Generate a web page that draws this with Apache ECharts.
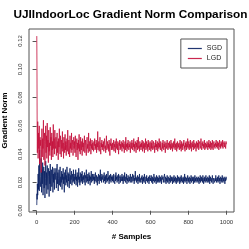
<!DOCTYPE html>
<html><head><meta charset="utf-8">
<script src="https://cdn.jsdelivr.net/npm/echarts@6/dist/echarts.min.js"></script>
<style>html,body{margin:0;padding:0;background:#fff}#c{width:249px;height:249px}</style>
</head><body><div id="c"></div>
<script>
const samples = [1,2,3,4,6,8,10,12,14,16,18,20,
22,24,26,28,30,32,34,36,38,40,42,44,46,48,50,52,54,56,58,60,62,64,66,68,70,72,74,76,78,80,82,84,86,88,90,92,94,96,98,
100,102,104,106,108,110,112,114,116,118,120,122,124,126,128,130,132,134,136,138,140,142,144,146,148,
150,152,154,156,158,160,162,164,166,168,170,172,174,176,178,180,182,184,186,188,190,192,194,196,198,
200,202,204,206,208,210,212,214,216,218,220,222,224,226,228,230,232,234,236,238,240,242,244,246,248,
250,252,254,256,258,260,262,264,266,268,270,272,274,276,278,280,282,284,286,288,290,292,294,296,298,
300,302,304,306,308,310,312,314,316,318,320,322,324,326,328,330,332,334,336,338,340,342,344,346,348,
350,352,354,356,358,360,362,364,366,368,370,372,374,376,378,380,382,384,386,388,390,392,394,396,398,
400,402,404,406,408,410,412,414,416,418,420,422,424,426,428,430,432,434,436,438,440,442,444,446,448,
450,452,454,456,458,460,462,464,466,468,470,472,474,476,478,480,482,484,486,488,490,492,494,496,498,
500,502,504,506,508,510,512,514,516,518,520,522,524,526,528,530,532,534,536,538,540,542,544,546,548,
550,552,554,556,558,560,562,564,566,568,570,572,574,576,578,580,582,584,586,588,590,592,594,596,598,
600,602,604,606,608,610,612,614,616,618,620,622,624,626,628,630,632,634,636,638,640,642,644,646,648,
650,652,654,656,658,660,662,664,666,668,670,672,674,676,678,680,682,684,686,688,690,692,694,696,698,
700,702,704,706,708,710,712,714,716,718,720,722,724,726,728,730,732,734,736,738,740,742,744,746,748,
750,752,754,756,758,760,762,764,766,768,770,772,774,776,778,780,782,784,786,788,790,792,794,796,798,
800,802,804,806,808,810,812,814,816,818,820,822,824,826,828,830,832,834,836,838,840,842,844,846,848,
850,852,854,856,858,860,862,864,866,868,870,872,874,876,878,880,882,884,886,888,890,892,894,896,898,
900,902,904,906,908,910,912,914,916,918,920,922,924,926,928,930,932,934,936,938,940,942,944,946,948,
950,952,954,956,958,960,962,964,966,968,970,972,974,976,978,980,982,984,986,988,990,992,994,996,998,
1000];

const lgd = [0.1235,0.0988,0.058,0.041,0.063,0.037,0.055,0.044,0.060,0.033,0.052,0.046,
0.050,0.027,0.043,0.058,0.038,0.051,0.044,0.064,0.036,0.049,0.055,0.032,0.047,0.060,0.041,0.053,0.037,0.062,0.045,0.050,
0.034,0.057,0.042,0.048,0.039,0.059,0.046,0.052,0.036,0.055,0.043,0.049,0.038,0.061,0.044,0.051,0.040,0.057,0.046,
0.044,0.052,0.039,0.047,0.055,0.041,0.049,0.036,0.051,0.045,0.058,0.043,0.040,0.053,0.047,0.038,0.050,0.044,0.056,0.042,0.048,0.037,0.052,0.046,0.041,
0.054,0.043,0.049,0.039,0.047,0.051,0.042,0.057,0.045,0.040,0.050,0.046,0.038,0.053,0.044,0.048,0.041,0.055,0.043,0.047,0.050,0.039,0.046,0.052,0.044,
0.049,0.041,0.053,0.045,0.038,0.047,0.051,0.043,0.048,0.036,0.050,0.044,0.054,0.042,0.047,0.040,0.052,0.046,0.043,0.049,0.039,0.051,0.045,0.048,0.042,
0.047,0.053,0.041,0.046,0.050,0.043,0.039,0.048,0.052,0.044,0.047,0.041,0.055,0.045,0.042,0.049,0.046,0.051,0.040,0.047,0.044,0.050,0.043,0.048,0.045,
0.042,0.049,0.046,0.051,0.043,0.047,0.044,0.050,0.041,0.048,0.045,0.056,0.043,0.046,0.049,0.042,0.047,0.052,0.044,0.040,0.048,0.045,0.050,0.043,0.047,
0.045,0.049,0.042,0.047,0.051,0.044,0.046,0.041,0.048,0.053,0.043,0.046,0.049,0.044,0.047,0.042,0.050,0.045,0.039,0.048,0.046,0.051,0.043,0.047,0.044,
0.048,0.043,0.046,0.050,0.042,0.047,0.045,0.049,0.041,0.046,0.051,0.044,0.047,0.043,0.049,0.045,0.040,0.048,0.046,0.050,0.043,0.047,0.044,0.049,0.045,
0.042,0.048,0.045,0.050,0.044,0.047,0.041,0.046,0.049,0.043,0.052,0.045,0.047,0.042,0.048,0.044,0.050,0.046,0.043,0.047,0.045,0.049,0.041,0.046,0.048,
0.044,0.050,0.046,0.043,0.048,0.045,0.051,0.042,0.047,0.044,0.049,0.046,0.041,0.048,0.045,0.050,0.043,0.047,0.052,0.044,0.046,0.042,0.049,0.045,0.047,
0.043,0.048,0.045,0.050,0.042,0.046,0.049,0.044,0.047,0.041,0.048,0.045,0.051,0.043,0.046,0.049,0.044,0.047,0.042,0.050,0.045,0.048,0.043,0.046,0.049,
0.045,0.042,0.048,0.044,0.050,0.046,0.043,0.047,0.049,0.044,0.046,0.041,0.048,0.045,0.050,0.043,0.047,0.045,0.049,0.042,0.046,0.048,0.044,0.051,0.045,
0.047,0.043,0.049,0.045,0.046,0.042,0.048,0.044,0.050,0.046,0.043,0.047,0.045,0.049,0.041,0.046,0.048,0.044,0.047,0.050,0.045,0.043,0.048,0.046,0.044,
0.049,0.045,0.047,0.043,0.050,0.044,0.046,0.048,0.042,0.047,0.045,0.049,0.044,0.046,0.051,0.043,0.047,0.045,0.048,0.042,0.046,0.049,0.044,0.047,0.045,
0.048,0.043,0.046,0.050,0.044,0.047,0.042,0.049,0.045,0.047,0.043,0.048,0.046,0.050,0.044,0.046,0.042,0.048,0.045,0.049,0.043,0.047,0.045,0.051,0.044,
0.046,0.049,0.043,0.047,0.045,0.050,0.044,0.048,0.042,0.046,0.049,0.045,0.047,0.043,0.050,0.046,0.044,0.048,0.045,0.047,0.042,0.049,0.046,0.044,0.048,
0.045,0.050,0.043,0.047,0.046,0.049,0.044,0.046,0.051,0.045,0.043,0.048,0.046,0.049,0.044,0.047,0.045,0.050,0.043,0.046,0.048,0.044,0.047,0.045,0.049,
0.046,0.043,0.048,0.045,0.050,0.044,0.047,0.045,0.049,0.043,0.046,0.048,0.044,0.050,0.046,0.043,0.047,0.049,0.045,0.047,0.044,0.048,0.046,0.050,0.045,
0.047,0.044,0.049,0.046,0.048,0.043,0.047,0.050,0.045,0.047,0.044,0.049,0.046,0.048,0.045,0.050,0.044,0.047,0.046,0.049,0.045,0.048,0.047,0.044,0.049,
0.047];

const sgd = [0.004,0.012,0.008,0.019,0.011,0.026,0.015,0.032,0.014,0.043,0.021,0.017,
0.024,0.037,0.013,0.029,0.019,0.034,0.011,0.026,0.031,0.016,0.028,0.009,0.023,0.035,0.018,0.027,0.012,0.032,0.021,0.015,
0.030,0.024,0.010,0.028,0.019,0.033,0.014,0.025,0.029,0.017,0.022,0.031,0.013,0.026,0.020,0.030,0.015,0.027,0.022,
0.021,0.030,0.016,0.025,0.033,0.019,0.027,0.014,0.023,0.029,0.018,0.026,0.031,0.017,0.024,0.020,0.028,0.015,0.026,0.022,0.030,0.019,0.024,0.013,0.027,
0.022,0.029,0.018,0.025,0.020,0.031,0.023,0.017,0.027,0.021,0.026,0.016,0.024,0.030,0.019,0.025,0.022,0.028,0.018,0.023,0.026,0.020,0.029,0.021,0.024,
0.019,0.026,0.022,0.029,0.018,0.024,0.021,0.027,0.017,0.025,0.022,0.030,0.020,0.024,0.018,0.027,0.023,0.020,0.026,0.021,0.028,0.019,0.024,0.022,0.025,
0.020,0.027,0.022,0.018,0.025,0.023,0.029,0.020,0.024,0.021,0.026,0.019,0.023,0.027,0.021,0.025,0.018,0.024,0.022,0.028,0.020,0.023,0.026,0.021,0.024,
0.022,0.026,0.019,0.024,0.021,0.027,0.023,0.020,0.025,0.022,0.018,0.024,0.021,0.026,0.023,0.019,0.025,0.022,0.029,0.021,0.024,0.020,0.026,0.022,0.023,
0.025,0.020,0.023,0.027,0.021,0.024,0.019,0.025,0.022,0.026,0.020,0.023,0.021,0.028,0.022,0.024,0.019,0.025,0.021,0.023,0.026,0.020,0.024,0.022,0.025,
0.021,0.024,0.020,0.026,0.022,0.023,0.019,0.025,0.021,0.027,0.022,0.024,0.020,0.023,0.025,0.021,0.026,0.019,0.023,0.022,0.025,0.020,0.024,0.021,0.023,
0.026,0.021,0.024,0.019,0.023,0.025,0.021,0.027,0.022,0.020,0.024,0.022,0.026,0.019,0.023,0.021,0.025,0.022,0.020,0.024,0.021,0.023,0.026,0.020,0.022,
0.024,0.020,0.023,0.026,0.021,0.022,0.025,0.019,0.023,0.021,0.028,0.022,0.024,0.020,0.023,0.021,0.025,0.019,0.022,0.024,0.021,0.026,0.020,0.023,0.022,
0.020,0.024,0.022,0.025,0.019,0.023,0.021,0.024,0.020,0.026,0.022,0.023,0.019,0.024,0.021,0.025,0.022,0.020,0.023,0.021,0.024,0.019,0.022,0.025,0.021,
0.023,0.021,0.025,0.020,0.022,0.024,0.019,0.023,0.021,0.026,0.022,0.020,0.024,0.021,0.023,0.019,0.025,0.022,0.020,0.024,0.021,0.023,0.020,0.025,0.022,
0.020,0.024,0.021,0.023,0.019,0.025,0.022,0.021,0.024,0.020,0.023,0.022,0.026,0.020,0.022,0.024,0.019,0.023,0.021,0.025,0.020,0.022,0.024,0.021,0.019,
0.023,0.021,0.025,0.020,0.022,0.024,0.021,0.023,0.019,0.024,0.022,0.020,0.025,0.021,0.023,0.020,0.024,0.022,0.019,0.023,0.021,0.025,0.020,0.022,0.024,
0.021,0.023,0.019,0.024,0.022,0.020,0.025,0.021,0.023,0.020,0.022,0.024,0.019,0.023,0.021,0.026,0.020,0.022,0.024,0.021,0.023,0.019,0.022,0.025,0.021,
0.023,0.020,0.024,0.022,0.019,0.023,0.021,0.025,0.020,0.022,0.024,0.021,0.023,0.019,0.024,0.022,0.020,0.025,0.021,0.023,0.020,0.022,0.024,0.021,0.023,
0.020,0.024,0.022,0.019,0.023,0.021,0.025,0.020,0.022,0.024,0.021,0.023,0.020,0.025,0.022,0.019,0.023,0.021,0.024,0.020,0.022,0.025,0.021,0.023,0.020,
0.022,0.024,0.020,0.023,0.021,0.025,0.019,0.022,0.024,0.021,0.023,0.020,0.022,0.025,0.021,0.019,0.023,0.022,0.024,0.020,0.023,0.021,0.025,0.022,0.020,
0.023,0.021,0.024,0.020,0.022,0.025,0.021,0.023,0.019,0.022,0.024,0.021,0.023,0.020,0.025,0.022,0.020,0.023,0.021,0.024,0.022,0.019,0.023,0.021,0.024,
0.022];

const xTicks = [0,200,400,600,800,1000];
const yTicks = [0,0.02,0.04,0.06,0.08,0.1,0.12];
const seriesNames = ['SGD','LGD'];
const titleText = 'UJIIndoorLoc Gradient Norm Comparison';
const colors = ['rgba(10,32,98,0.9)','rgba(196,16,60,0.9)'];

const chart = echarts.init(document.getElementById('c'), null, {renderer:'canvas'});
const axisGray = '#555';
chart.setOption({
  animation:false,
  backgroundColor:'#fff',
  graphic:[{type:'text', x:130.5, y:15, style:{text:titleText, align:'center', verticalAlign:'middle',
    font:'bold 11.8px "Liberation Sans"', fill:'#000'}}],
  grid:{left:29, right:15, top:29, bottom:37, show:true, borderColor:axisGray, borderWidth:1,
    backgroundColor:'transparent', containLabel:false, outerBoundsMode:'none'},
  legend:{data:seriesNames, orient:'vertical', right:22, top:39, borderColor:axisGray, borderWidth:1,
    padding:[6,5,6,7], itemGap:3, itemWidth:14, itemHeight:1.2, icon:'rect',
    textStyle:{fontFamily:'Liberation Sans', fontSize:7, color:'#222'}},
  xAxis:{type:'value', min:-40, max:1040, name:'# Samples', nameLocation:'middle', nameGap:21,
    nameTextStyle:{fontFamily:'Liberation Sans', fontWeight:'bold', fontSize:8, color:'#000'},
    axisLine:{show:false}, splitLine:{show:false},
    axisTick:{show:true, inside:false, length:4, lineStyle:{color:axisGray}, customValues:xTicks},
    axisLabel:{fontFamily:'Liberation Sans', fontSize:6, color:'#333', margin:7, customValues:xTicks,
      formatter:v=>String(v)}},
  yAxis:{type:'value', min:-0.0009, max:0.1285, name:'Gradient Norm', nameLocation:'middle', nameGap:20,
    nameTextStyle:{fontFamily:'Liberation Sans', fontWeight:'bold', fontSize:8, color:'#000'},
    axisLine:{show:false}, splitLine:{show:false},
    axisTick:{show:true, inside:false, length:4, lineStyle:{color:axisGray}, customValues:yTicks},
    axisLabel:{fontFamily:'Liberation Sans', fontSize:6, color:'#333', margin:6, rotate:90,
      customValues:yTicks, formatter:v=>v.toFixed(2)}},
  series:[
    {name:seriesNames[0], type:'line', showSymbol:false, data:samples.map((x,i)=>[x,sgd[i]]),
      lineStyle:{width:0.9, color:colors[0]}, itemStyle:{color:colors[0]}},
    {name:seriesNames[1], type:'line', showSymbol:false, data:samples.map((x,i)=>[x,lgd[i]]),
      lineStyle:{width:0.9, color:colors[1]}, itemStyle:{color:colors[1]}}
  ]
});
</script></body></html>
